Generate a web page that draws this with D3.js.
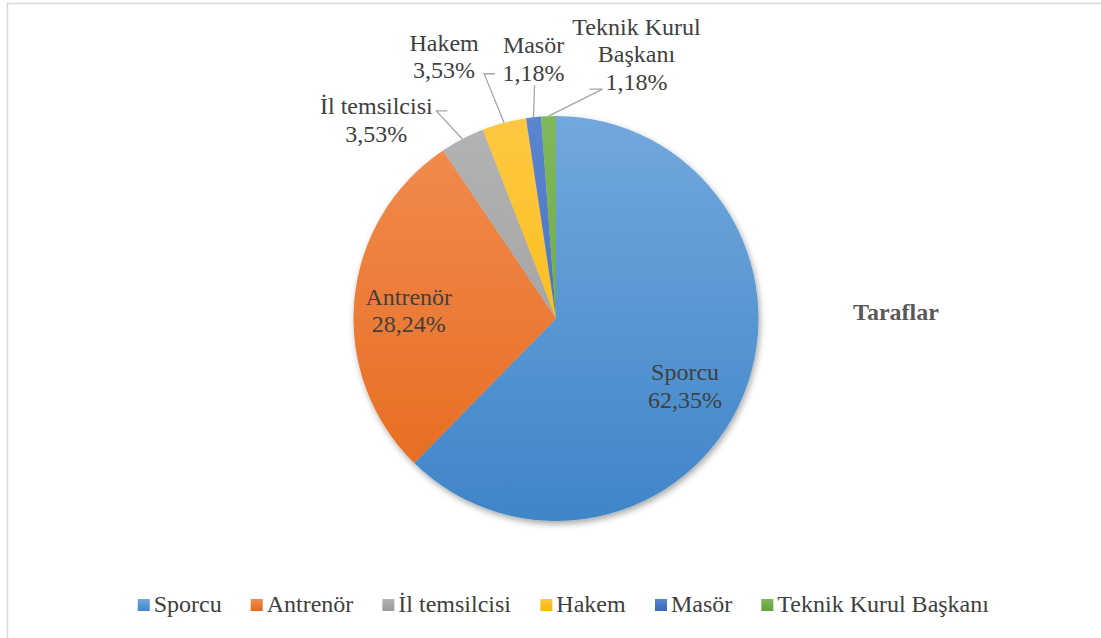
<!DOCTYPE html>
<html>
<head>
<meta charset="utf-8">
<script src="https://cdn.jsdelivr.net/npm/d3@7"></script>
<style>
  html, body { margin: 0; padding: 0; background: #fff; }
  svg { display: block; }
</style>
</head>
<body>
<svg id="chart" width="1101" height="638"></svg>
<script>
// ---- data ----
const categories = ["Sporcu", "Antrenör", "İl temsilcisi", "Hakem", "Masör", "Teknik Kurul Başkanı"];
const percentages = [62.35, 28.24, 3.53, 3.53, 1.18, 1.18];
const percentLabels = ["62,35%", "28,24%", "3,53%", "3,53%", "1,18%", "1,18%"];
const labelLines = [["Sporcu"], ["Antrenör"], ["İl temsilcisi"], ["Hakem"], ["Masör"], ["Teknik Kurul", "Başkanı"]];
const seriesTitle = "Taraflar";

// ---- styles / layout ----
const colorsTop = ["#72a8dd", "#f28d51", "#b3b3b3", "#ffc742", "#5b85cf", "#80b85c"];
const colorsBottom = ["#3f85c8", "#e5691b", "#999999", "#f5b800", "#3a66b8", "#61a03a"];
const FONT = "'Liberation Serif', 'Times New Roman', 'DejaVu Serif', serif";
const W = 1101, H = 638;
const cx = 556, cy = 318.5, R = 202.5;
const fontSize = 24, lineH = 27.5;
const textColor = "#404040";

const labelLayout = [
  { inside: true, rf: 0.71, dx: -4, dy: 13 },
  { inside: true, rf: 0.74, dx: 2, dy: 6 },
  { inside: false, dx: -86, dy: -19, elbow: [[60, -9], [71, -9]] },
  { inside: false, dx: -60, dy: -66, elbow: [[40, 17], [51, 17]] },
  { inside: false, dx: 0, dy: -58, elbow: [[1, 26]] },
  { inside: false, dx: 88, dy: -62, elbow: [[-34, 35], [-47, 35]] }
];

const svg = d3.select("#chart");

svg.append("rect").attr("x", 7.5).attr("y", 3.5).attr("width", W + 10).attr("height", H + 10)
  .attr("fill", "none").attr("stroke", "#d9d9d9").attr("stroke-width", 1.5);

const defs = svg.append("defs");
colorsTop.forEach((c, i) => {
  const g = defs.append("linearGradient").attr("id", "grad" + i)
    .attr("gradientUnits", "userSpaceOnUse")
    .attr("x1", 0).attr("y1", -R).attr("x2", 0).attr("y2", R);
  g.append("stop").attr("offset", "0%").attr("stop-color", c);
  g.append("stop").attr("offset", "100%").attr("stop-color", colorsBottom[i]);
  const lg = defs.append("linearGradient").attr("id", "lg" + i).attr("x1", 0).attr("y1", 0).attr("x2", 0).attr("y2", 1);
  lg.append("stop").attr("offset", "0%").attr("stop-color", c);
  lg.append("stop").attr("offset", "100%").attr("stop-color", colorsBottom[i]);
});
const f = defs.append("filter").attr("id", "shadow").attr("x", "-20%").attr("y", "-20%").attr("width", "140%").attr("height", "140%");
f.append("feDropShadow").attr("dx", 1.5).attr("dy", 3).attr("stdDeviation", 3)
  .attr("flood-color", "#000").attr("flood-opacity", 0.35);

const data = categories.map((c, i) => ({ name: c, value: percentages[i], i }));
const pie = d3.pie().value(d => d.value).sort(null);
const arcs = pie(data);
const arc = d3.arc().innerRadius(0).outerRadius(R);

const g = svg.append("g").attr("transform", `translate(${cx},${cy})`);
g.append("g").attr("filter", "url(#shadow)")
  .selectAll("path").data(arcs).enter().append("path")
  .attr("d", arc)
  .attr("fill", d => `url(#grad${d.data.i})`);

arcs.forEach((a, k) => {
  const L = labelLayout[k];
  const mid = (a.startAngle + a.endAngle) / 2;
  const ex = Math.sin(mid) * R, ey = -Math.cos(mid) * R;
  let lx, ly;
  if (L.inside) {
    lx = Math.sin(mid) * R * L.rf + L.dx; ly = -Math.cos(mid) * R * L.rf + L.dy;
  } else {
    lx = ex + L.dx; ly = ey + L.dy;
    const pts = [[ex, ey]].concat(L.elbow.map(p => [lx + p[0], ly + p[1]]));
    g.append("path").attr("d", d3.line()(pts))
      .attr("fill", "none").attr("stroke", "#a6a6a6").attr("stroke-width", 1.3);
  }
  const lines = labelLines[k].concat([percentLabels[k]]);
  const n = lines.length;
  const t = g.append("text").attr("text-anchor", "middle")
    .attr("font-family", FONT).attr("font-size", fontSize).attr("fill", textColor);
  lines.forEach((s, j) => {
    t.append("tspan").attr("x", lx).attr("y", ly + (j - (n - 1) / 2) * lineH + fontSize * 0.33).text(s);
  });
});

svg.append("text").attr("x", 896).attr("y", 319.5).attr("text-anchor", "middle")
  .attr("font-family", FONT).attr("font-size", fontSize).attr("font-weight", "bold")
  .attr("fill", "#595959").text(seriesTitle);

// legend
const legend = svg.append("g");
const items = legend.selectAll("g").data(categories).enter().append("g");
items.append("rect").attr("width", 12).attr("height", 12).attr("fill", (d, i) => `url(#lg${i})`);
items.append("text").attr("x", 16).attr("y", 13).attr("font-family", FONT)
  .attr("font-size", fontSize).attr("fill", textColor).text(d => d);
const gap = 29;
const widths = [];
items.each(function() { widths.push(this.getBBox().width); });
const total = d3.sum(widths) + gap * (categories.length - 1);
let x = 563.5 - total / 2;
items.each(function(d, i) {
  d3.select(this).attr("transform", `translate(${x},599)`);
  x += widths[i] + gap;
});
</script>
</body>
</html>
